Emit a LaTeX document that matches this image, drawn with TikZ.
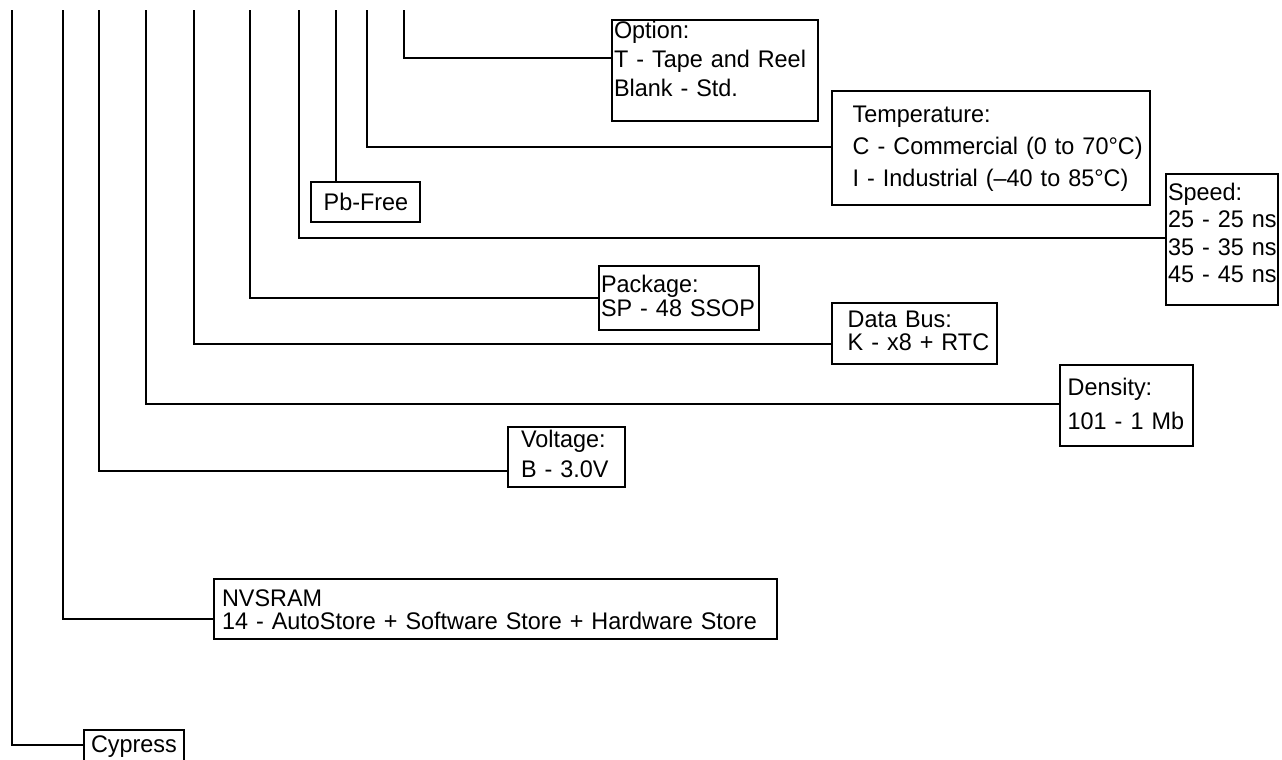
\documentclass[tikz,border=0pt]{standalone}
\usepackage{fontspec}
\setmainfont[FakeStretch=0.975]{Liberation Sans}
\tikzset{
  % lead line from the part number down to its field
  lead/.style={line width=1pt},
  % Field box, placed at its top left corner
  field/.style={draw, line width=1pt, shape=rectangle, anchor=north west,
    inner xsep=1pt, inner ysep=0pt, align=left,
    font=\fontsize{12pt}{14pt}\selectfont},
  % line spacing inside a field
  leading/.style={font=\fontsize{12pt}{#1}\selectfont},
  % left indent of the text in a field (lines never wrap)
  indent/.style={execute at begin node={%
      \leftskip=#1\rightskip=-30pt plus 1fil\relax}},
}

\begin{document}
\begin{tikzpicture}[x=0.5pt, y=-0.5pt]
  \clip (0,0) rectangle (1282,760);
  \fill[white] (0,0) rectangle (1282,760);

  % tops of the leads
  \foreach \n/\x in {cyp/12, nvs/63, volt/99, dens/146, bus/194,
    pkg/250, speed/299, pb/336, temp/367, opt/404}
    \coordinate (t-\n) at (\x,10);

  % fields
  \node[field, leading=14.35pt, text width=101pt, indent=0pt,
    text height=9.35pt, text depth=41.15pt] (opt) at (611,19)
    {Option:\\T - Tape and Reel\\Blank - Std.};
  \node[field, leading=15.85pt, text width=157pt, indent=9.35pt,
    text height=15.85pt, text depth=41.15pt] (temp) at (831,90)
    {Temperature:\\C - Commercial (0 to 70°C)\\I - Industrial (–40 to 85°C)};
  \node[field, text width=52.5pt, indent=5.35pt,
    text height=14.15pt, text depth=5.85pt] (pb) at (310,181)
    {Pb-Free};
  \node[field, leading=13.8pt, text width=54pt, indent=0pt,
    text height=13pt, text depth=52.5pt] (speed) at (1165,173)
    {Speed:\\25 - 25 ns\\35 - 35 ns\\45 - 45 ns};
  \node[field, leading=11.65pt, text width=78pt, indent=0pt,
    text height=13.35pt, text depth=18.65pt] (pkg) at (598,265)
    {Package:\\SP - 48 SSOP};
  \node[field, leading=11.65pt, text width=80.5pt, indent=6.85pt,
    text height=12pt, text depth=18.5pt] (bus) at (831,302)
    {Data Bus:\\K - x8 + RTC};
  \node[field, leading=17.15pt, text width=64.5pt, indent=2.85pt,
    text height=15pt, text depth=25.5pt] (dens) at (1059,364)
    {Density:\\101 - 1 Mb};
  \node[field, leading=14.65pt, text width=56.5pt, indent=5.5pt,
    text height=10.35pt, text depth=19.65pt] (volt) at (507,426)
    {Voltage:\\B - 3.0V};
  \node[field, leading=11.5pt, text width=279.5pt, indent=3pt,
    text height=13.5pt, text depth=16.5pt] (nvs) at (213,578)
    {NVSRAM\\14 - AutoStore + Software Store + Hardware Store};
  \node[field, text width=48pt, indent=2.5pt,
    text height=11pt, text depth=7pt] (cyp) at (83,729)
    {Cypress};

  % leads
  \draw[lead] (t-opt) |- ([yshift=6.1pt]opt.west);
  \draw[lead] (t-temp) |- ([yshift=0.5pt]temp.west);
  \draw[lead] (t-pb) -- (t-pb |- pb.north);
  \draw[lead] (t-speed) |- ([yshift=0.9pt]speed.west);
  \draw[lead] (t-pkg) |- (pkg.west);
  \draw[lead] (t-bus) |- ([yshift=-5.1pt]bus.west);
  \draw[lead] (t-dens) |- ([yshift=0.9pt]dens.west);
  \draw[lead] (t-volt) |- ([yshift=-7pt]volt.west);
  \draw[lead] (t-nvs) |- ([yshift=-4.85pt]nvs.west);
  \draw[lead] (t-cyp) |- ([yshift=1.35pt]cyp.west);
\end{tikzpicture}
\end{document}
